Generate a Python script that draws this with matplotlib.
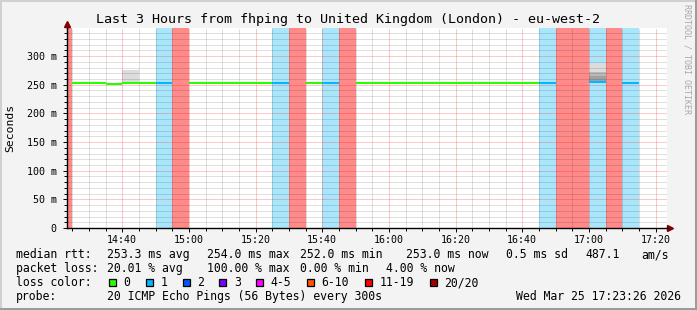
import matplotlib
matplotlib.use("Agg")
import matplotlib.pyplot as plt
import numpy as np
from matplotlib.patches import Rectangle
from matplotlib.lines import Line2D
from matplotlib.ticker import MultipleLocator, FuncFormatter

# ---------------- data ----------------
title = "Last 3 Hours from fhping to United Kingdom (London) - eu-west-2"
window_start = "14:23:26"
window_end = "17:23:26"

bin_end = ["14:25", "14:30", "14:35", "14:40", "14:45", "14:50", "14:55", "15:00",
           "15:05", "15:10", "15:15", "15:20", "15:25", "15:30", "15:35", "15:40",
           "15:45", "15:50", "15:55", "16:00", "16:05", "16:10", "16:15", "16:20",
           "16:25", "16:30", "16:35", "16:40", "16:45", "16:50", "16:55", "17:00",
           "17:05", "17:10", "17:15"]
median_ms = [np.nan, 253.6, 253.6, 252.0, 253.6, 253.6, 253.6, np.nan,
             253.6, 253.6, 253.6, 253.6, 253.6, 253.6, np.nan, 253.6,
             253.6, np.nan, 253.6, 253.6, 253.6, 253.6, 253.6, 253.6,
             253.6, 253.6, 253.6, 253.6, 253.6, 253.6, np.nan, np.nan,
             254.0, np.nan, 253.0]
lost_pings = [20, 0, 0, 0, 0, 0, 1, 20,
              0, 0, 0, 0, 0, 1, 20, 0,
              1, 20, 0, 0, 0, 0, 0, 0,
              0, 0, 0, 0, 0, 1, 20, 20,
              1, 20, 1]

# smoke (spread of individual pings), shade level 1 = light .. 3 = dark
smoke_end = ["14:45", "17:05", "17:05", "17:05"]
smoke_lo = [253.6, 273.0, 265.5, 255.5]
smoke_hi = [276.0, 287.5, 273.0, 265.5]
smoke_level = [1, 1, 2, 3]

y_ticks = [0, 50, 100, 150, 200, 250, 300]
y_top = 349

legend_rows = [
    ["median rtt:", "253.3 ms avg", "254.0 ms max", "252.0 ms min", "253.0 ms now", "0.5 ms sd", "487.1", "am/s"],
    ["packet loss:", "20.01 % avg", "100.00 % max", "0.00 % min", "4.00 % now"],
]
loss_labels = ["0", "1", "2", "3", "4-5", "6-10", "11-19", "20/20"]
loss_colors = ["#26ff00", "#00b8ff", "#0059ff", "#7e00ff", "#ff00ff", "#ff5500", "#ff0000", "#a10000"]
probe_text = "20 ICMP Echo Pings (56 Bytes) every 300s"
stamp_text = "Wed Mar 25 17:23:26 2026"
credit = "RRDTOOL / TOBI OETIKER"

# ---------------- styles ----------------
W, H = 697, 310
MONO = "DejaVu Sans Mono"
line_color_for_loss = {0: "#26ff00", 1: "#00b8ff"}
bg_color_for_loss = {1: "#aae6fb", 20: "#ff8a8a"}
smoke_colors = {1: "#dcdcdc", 2: "#b9b9b9", 3: "#a0a0a0"}
STEP = 5.0


def tmin(s):
    parts = [int(p) for p in s.split(":")]
    v = parts[0] * 60 + parts[1]
    if len(parts) > 2:
        v += parts[2] / 60.0
    return v


fig = plt.figure(figsize=(W / 100, H / 100), dpi=100)
fig.patch.set_facecolor("#f3f3f3")
ax = fig.add_axes([67 / W, 82 / H, 600 / W, 200 / H])
ax.set_facecolor("white")
ax.set_xlim(tmin(window_start), tmin(window_end))
ax.set_ylim(0, y_top)

ends = np.array([tmin(t) for t in bin_end])
med = np.array(median_ms, dtype=float)
lost = np.array(lost_pings)

# loss background columns
for e, l in zip(ends, lost):
    if l in bg_color_for_loss:
        ax.bar(e - STEP / 2, y_top * 2, width=STEP, bottom=0,
               color=bg_color_for_loss[l], linewidth=0, zorder=1)

# smoke
for e, lo, hi, lv in zip(smoke_end, smoke_lo, smoke_hi, smoke_level):
    x = tmin(e)
    ax.bar(x - STEP / 2, hi - lo, width=STEP, bottom=lo,
           color=smoke_colors[lv], linewidth=0, zorder=1.2)

# median line coloured by loss
ok = ~np.isnan(med)
cols = [line_color_for_loss.get(l, "#00b8ff") for l in lost[ok]]
ax.hlines(med[ok], ends[ok] - STEP, ends[ok], colors=cols, linewidth=1.5,
          zorder=3, capstyle="butt")

# ticks
ax.xaxis.set_major_locator(MultipleLocator(20))
ax.xaxis.set_minor_locator(MultipleLocator(5))
ax.yaxis.set_minor_locator(MultipleLocator(10))
ax.set_yticks(y_ticks)
ax.xaxis.set_major_formatter(FuncFormatter(lambda v, p: "%02d:%02d" % (int(v) // 60, int(v) % 60)))
ax.yaxis.set_major_formatter(FuncFormatter(lambda v, p: "0" if v == 0 else "%d m" % v))

for sp in ["top", "right"]:
    ax.spines[sp].set_visible(False)
for sp in ["left", "bottom"]:
    ax.spines[sp].set_color("black")
    ax.spines[sp].set_linewidth(1.0)

ax.tick_params(which="major", length=3, width=0.7, direction="out",
               labelsize=7.2, pad=1.8)
ax.tick_params(which="minor", length=2, width=0.7, direction="out")
ax.tick_params(axis="y", which="major", pad=4.5)
for lab in ax.get_xticklabels() + ax.get_yticklabels():
    lab.set_fontfamily(MONO)

# grid (dotted, drawn above the columns but below the median line)
ax.set_axisbelow(False)
ax.grid(True, which="minor", color="#000000", alpha=0.24, linestyle=(0, (1, 1)), linewidth=0.72)
ax.grid(True, which="major", color="#ff0000", alpha=0.42, linestyle=(0, (1, 1)), linewidth=0.72)

# axis arrows
ax.plot([0, 0], [1, 1.02], transform=ax.transAxes, color="black", lw=1.0, clip_on=False)
ax.plot([0], [1.022], marker="^", ms=4.5, color="#7f0000", transform=ax.transAxes, clip_on=False)
ax.plot([1.0058], [0], marker=">", ms=4.5, color="#7f0000", transform=ax.transAxes, clip_on=False)

# texts
def fx(px):
    return px / W


def fy(py):
    return 1 - py / H


fig.text(fx(348), fy(19.5), title, ha="center", va="center", family=MONO, fontsize=9.6)
fig.text(fx(10), fy(128), "Seconds", ha="center", va="center", rotation=90, family=MONO, fontsize=8.2)
fig.text(fx(687), fy(59), credit, ha="center", va="center", rotation=270, family=MONO,
         fontsize=6.0, color="#a8a8a8")

LFS = 8.3
row_x = [[16, 107, 207, 300, 406.5, 506.5, 585, 641.5],
         [16, 107, 207, 300, 386]]
row_y = [254.5, 268.5]
for r, xs, yy in zip(legend_rows, row_x, row_y):
    for s, xx in zip(r, xs):
        fig.text(fx(xx), fy(yy), s, ha="left", va="center", family=MONO, fontsize=LFS)

fig.text(fx(16), fy(282.5), "loss color:", ha="left", va="center", family=MONO, fontsize=LFS)
box_x = [108.7, 145.7, 182.7, 219.3, 256, 307, 365, 430]
for bx, c, lab in zip(box_x, loss_colors, loss_labels):
    fig.add_artist(Rectangle((fx(bx), fy(286)), 7 / W, 7 / H, transform=fig.transFigure,
                             facecolor=c, edgecolor="black", linewidth=0.9))
    fig.text(fx(bx + 14.5), fy(282.5), lab, ha="left", va="center", family=MONO, fontsize=LFS)

fig.text(fx(16), fy(296.5), "probe:", ha="left", va="center", family=MONO, fontsize=LFS)
fig.text(fx(107), fy(296.5), probe_text, ha="left", va="center", family=MONO, fontsize=LFS)
fig.text(fx(680.5), fy(296.5), stamp_text, ha="right", va="center", family=MONO, fontsize=LFS)

# frame
fig.add_artist(Line2D([0, 1], [1, 1], transform=fig.transFigure, color="#d0d0d0", lw=2.9))
fig.add_artist(Line2D([0, 0], [0, 1], transform=fig.transFigure, color="#d0d0d0", lw=2.9))
fig.add_artist(Line2D([0, 1], [0, 0], transform=fig.transFigure, color="#9c9c9c", lw=2.9))
fig.add_artist(Line2D([1, 1], [0, 1], transform=fig.transFigure, color="#9c9c9c", lw=2.9))

fig.savefig("out.png", dpi=100, facecolor=fig.get_facecolor())
